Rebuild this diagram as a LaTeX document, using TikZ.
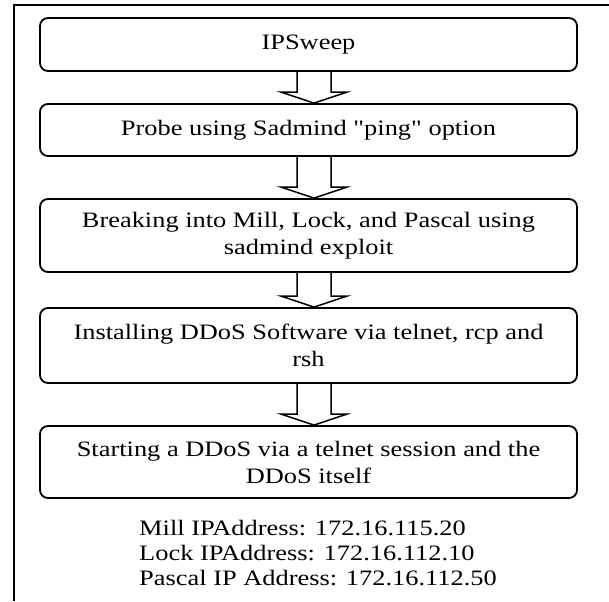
\documentclass[tikz,border=0pt]{standalone}
\usepackage{fontspec}
\setmainfont{Liberation Serif}[FakeStretch=1.2, Ligatures=TeXOff]
\usetikzlibrary{calc}

\tikzset{
  stage/.style={draw, line width=1.8pt, rounded corners=8pt,
    minimum width=537pt, inner sep=0pt, align=center,
    font=\fontsize{22}{27}\selectfont},
  blockarr/.style={draw, line width=1.5pt, line join=miter},
  framing/.style={line width=2pt},
  addr/.style={inner sep=0pt, align=left, anchor=west,
    font=\fontsize{22}{25}\selectfont}
}

% hollow block arrow from the bottom of one stage to the top of the next
\newcommand{\flowarrow}[2]{%
  \draw[blockarr]
    ($(#1.south)+(-11.5,0)$) --
    ($(#2.north)+(-11.5,-11)$) --
    ($(#2.north)+(-27.5,-11)$) --
    ($(#2.north)+(5.5,0)$) --
    ($(#2.north)+(38.5,-11)$) --
    ($(#2.north)+(22.5,-11)$) --
    ($(#1.south)+(22.5,0)$);%
}

\begin{document}
\begin{tikzpicture}[x=1pt, y=-1pt]
  \useasboundingbox (0,0) rectangle (609,601);

  % open frame: top and left sides only
  \coordinate (fbl) at (14,601);
  \coordinate (ftl) at (14,5);
  \coordinate (ftr) at (609,5);
  \draw[framing] (fbl) -- (ftl) -- (ftr);

  \node[stage, minimum height=53pt] (b1) at (308.5,44.5) {IPSweep};
  \node[stage, minimum height=52pt] (b2) at (308.5,130) {Probe using Sadmind "ping" option};
  \node[stage, minimum height=73pt] (b3) at (308.5,235.5)
    {Breaking into Mill, Lock, and Pascal using\\ sadmind exploit};
  \node[stage, minimum height=75pt] (b4) at (308.5,345.5)
    {Installing DDoS Software via telnet, rcp and\\ rsh};
  \node[stage, minimum height=72pt] (b5) at (308.5,462)
    {Starting a DDoS via a telnet session and the\\ DDoS itself};

  \flowarrow{b1}{b2}
  \flowarrow{b2}{b3}
  \flowarrow{b3}{b4}
  \flowarrow{b4}{b5}

  \node[addr] (ips) at (139,553)
    {Mill IPAddress: 172.16.115.20\\
     Lock IPAddress: 172.16.112.10\\
     Pascal IP Address: 172.16.112.50};
\end{tikzpicture}
\end{document}
